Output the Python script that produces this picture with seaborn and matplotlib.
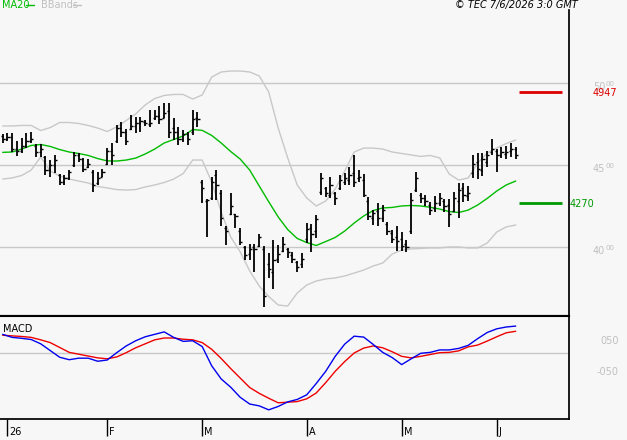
import numpy as np
import pandas as pd
import seaborn as sns
import matplotlib.pyplot as plt
from matplotlib.lines import Line2D

# sessions: last one of 2025, then Jan 2 .. Jun 5 2026 without exchange holidays
days = pd.bdate_range('2026-01-02', '2026-06-05')
days = days[~days.isin(pd.to_datetime(['2026-04-03', '2026-04-06', '2026-05-01']))]
dates = pd.DatetimeIndex([pd.Timestamp('2025-12-31')]).append(days)

opens = [4680, 4660, 4670, 4600, 4590, 4620, 4650, 4620, 4580, 4550,
         4470, 4500, 4440, 4400, 4420, 4500, 4560, 4540, 4490, 4460,
         4390, 4430, 4510, 4590, 4650, 4730, 4700, 4720, 4740, 4760,
         4765, 4750, 4790, 4800, 4790, 4830, 4730, 4700, 4660, 4690,
         4700, 4790, 4400, 4280, 4300, 4440, 4330, 4120, 4200, 4200,
         4100, 4000, 3960, 4000, 4010, 3990, 3900, 3850, 3930, 3980,
         3990, 3950, 3910, 3900, 4050, 4120, 4100, 4340, 4360, 4320,
         4330, 4360, 4400, 4410, 4450, 4420, 4410, 4280, 4180, 4220,
         4180, 4140, 4090, 4060, 4050, 4020, 4100, 4350, 4320, 4300,
         4260, 4240, 4270, 4280, 4260, 4220, 4280, 4360, 4310, 4450,
         4520, 4470, 4520, 4580, 4590, 4560, 4570, 4590, 4600]
highs = [4691, 4697, 4697, 4648, 4666, 4697, 4703, 4630, 4630, 4557,
         4532, 4563, 4447, 4441, 4471, 4581, 4575, 4545, 4538, 4471,
         4459, 4477, 4605, 4636, 4746, 4764, 4721, 4807, 4794, 4794,
         4776, 4837, 4837, 4862, 4880, 4880, 4788, 4734, 4715, 4703,
         4837, 4825, 4410, 4294, 4429, 4471, 4349, 4130, 4331, 4203,
         4118, 4008, 4020, 4020, 4081, 4008, 3965, 4044, 4014, 4063,
         3996, 3971, 3916, 3965, 4148, 4142, 4197, 4453, 4368, 4429,
         4337, 4441, 4453, 4490, 4563, 4471, 4447, 4307, 4227, 4270,
         4258, 4154, 4105, 4130, 4093, 4044, 4331, 4459, 4331, 4319,
         4276, 4313, 4331, 4294, 4294, 4337, 4392, 4392, 4374, 4563,
         4575, 4575, 4587, 4660, 4599, 4612, 4618, 4636, 4612]
lows = [4636, 4648, 4581, 4557, 4575, 4605, 4636, 4551, 4551, 4441,
        4429, 4453, 4380, 4380, 4410, 4490, 4520, 4459, 4483, 4337,
        4380, 4429, 4502, 4502, 4636, 4673, 4624, 4715, 4697, 4703,
        4740, 4734, 4776, 4752, 4788, 4666, 4654, 4624, 4642, 4624,
        4685, 4734, 4270, 4063, 4288, 4288, 4130, 4014, 4197, 4118,
        4014, 3922, 3922, 3849, 4002, 3636, 3813, 3746, 3904, 3971,
        3935, 3904, 3849, 3874, 4026, 3971, 4057, 4319, 4307, 4301,
        4258, 4349, 4380, 4380, 4368, 4398, 4307, 4166, 4136, 4130,
        4154, 4075, 4026, 3977, 3977, 3971, 4081, 4337, 4270, 4252,
        4197, 4215, 4252, 4215, 4124, 4215, 4179, 4276, 4282, 4423,
        4416, 4435, 4490, 4563, 4459, 4545, 4538, 4551, 4538]
closes = [4660, 4670, 4600, 4590, 4620, 4650, 4660, 4580, 4600, 4470,
          4500, 4530, 4400, 4420, 4460, 4560, 4540, 4480, 4510, 4380,
          4420, 4460, 4590, 4560, 4730, 4700, 4650, 4740, 4760, 4770,
          4760, 4760, 4800, 4780, 4820, 4700, 4700, 4660, 4690, 4660,
          4780, 4780, 4360, 4290, 4400, 4380, 4180, 4100, 4250, 4190,
          4030, 3950, 3990, 3990, 4060, 3700, 3870, 3920, 3960, 4020,
          3970, 3930, 3880, 3930, 4110, 4080, 4170, 4420, 4330, 4380,
          4300, 4410, 4420, 4440, 4400, 4430, 4320, 4190, 4210, 4180,
          4230, 4100, 4050, 4040, 4010, 4000, 4290, 4420, 4300, 4280,
          4230, 4270, 4300, 4250, 4200, 4300, 4350, 4320, 4330, 4510,
          4480, 4540, 4560, 4600, 4560, 4580, 4580, 4600, 4560]

# indicators, read every second session
ma20 = [4579, 4581, 4599, 4621, 4627, 4615, 4596, 4581, 4572, 4560,
        4541, 4527, 4526, 4532, 4544, 4569, 4599, 4636, 4657, 4679,
        4718, 4713, 4682, 4636, 4584, 4538, 4471, 4374, 4278, 4185,
        4108, 4054, 4029, 4011, 4035, 4060, 4099, 4148, 4191, 4224,
        4240, 4243, 4252, 4255, 4252, 4244, 4233, 4218, 4212, 4227,
        4258, 4298, 4343, 4380, 4404]
bb_upper = [4740, 4740, 4743, 4743, 4712, 4730, 4761, 4761, 4755, 4743,
            4727, 4706, 4734, 4773, 4813, 4868, 4907, 4926, 4932, 4932,
            4904, 4929, 5038, 5069, 5075, 5075, 5069, 5045, 4947, 4727,
            4545, 4380, 4301, 4252, 4282, 4355, 4465, 4581, 4605, 4605,
            4599, 4581, 4572, 4563, 4554, 4560, 4545, 4447, 4410, 4423,
            4514, 4575, 4605, 4633, 4654]
bb_lower = [4416, 4423, 4438, 4471, 4551, 4465, 4435, 4416, 4404, 4392,
            4371, 4362, 4352, 4349, 4352, 4368, 4380, 4395, 4416, 4450,
            4532, 4532, 4398, 4215, 4063, 3972, 3856, 3764, 3700, 3648,
            3642, 3721, 3770, 3794, 3807, 3813, 3825, 3843, 3861, 3886,
            3904, 3959, 3983, 3990, 3993, 3996, 3996, 4002, 4002, 3996,
            3996, 4026, 4093, 4124, 4136]
macd = [62, 52, 49, 45, 31, 9, -13, -21, -16, -16,
        -26, -22, 2, 24, 41, 54, 62, 70, 52, 39,
        41, 22, -41, -84, -111, -144, -166, -172, -185, -174,
        -159, -151, -136, -99, -59, -10, 30, 56, 53, 29,
        3, -14, -37, -18, 0, 3, 11, 11, 16, 26,
        48, 68, 80, 86, 89]
signal = [59, 57, 55, 52, 44, 35, 19, 3, -3, -9,
          -15, -18, -12, 2, 18, 31, 44, 50, 50, 46,
          44, 35, 13, -17, -50, -81, -112, -131, -147, -162,
          -160, -158, -149, -130, -96, -59, -27, 1, 17, 24,
          18, 5, -10, -15, -10, -4, 2, 3, 8, 21,
          27, 40, 54, 67, 72]

levels = [4947, 4270]
level_colors = ['#dd0000', '#009900']
price_ticks = [4000, 4500, 5000]
macd_ticks = [50, -50]
macd_labels = ['050', '-050']

W, H = 627, 440
BG = '#f7f7f7'

sns.set_theme(style='white', rc={'axes.facecolor': BG, 'figure.facecolor': BG})
plt.rcParams['font.family'] = ['DejaVu Sans']

fig = plt.figure(figsize=(W / 100, H / 100), dpi=100)
ax = fig.add_axes([0, 1 - 316 / H, 569 / W, 306 / H])
axm = fig.add_axes([0, 1 - 419 / H, 569 / W, 103 / H], sharex=ax)

idx = np.arange(len(dates))
idx2 = idx[::2]

# price panel
for v in price_ticks:
    ax.axhline(v, color='#c8c8c8', lw=1, zorder=0)
sns.lineplot(x=idx2, y=bb_upper, ax=ax, color='#c8c8c8', lw=1)
sns.lineplot(x=idx2, y=bb_lower, ax=ax, color='#c8c8c8', lw=1)
sns.lineplot(x=idx2, y=ma20, ax=ax, color='#00bb00', lw=1)
ax.vlines(idx, lows, highs, color='black', lw=1.3)
ax.hlines(opens, idx - 0.45, idx, color='black', lw=1)
ax.hlines(closes, idx, idx + 0.45, color='black', lw=1)
ax.hlines(levels, 108.7, 117.7, colors=level_colors, lw=2)

ax.set_xlim(-2.7 / 4.75, (569 - 2.7) / 4.75)
ax.set_ylim(3581, 5447)
ax.set_yticks([])
ax.tick_params(axis='x', length=0, labelbottom=False)
for s in ['left', 'top']:
    ax.spines[s].set_visible(False)
ax.spines['right'].set_color('black')
ax.spines['bottom'].set_color('black')
ax.spines['bottom'].set_linewidth(1.5)

# right-hand price labels, last two digits small and raised
for v in price_ticks:
    s = str(v)
    ax.annotate(s[:2], xy=(593 / W, v), xycoords=('figure fraction', 'data'),
                xytext=(0, -4), textcoords='offset pixels', va='center',
                fontsize=7, color='#c0c0c0', annotation_clip=False)
    ax.annotate(s[2:], xy=(606 / W, v), xycoords=('figure fraction', 'data'),
                xytext=(0, -1), textcoords='offset pixels', va='center',
                fontsize=5, color='#c0c0c0', annotation_clip=False)
for v, c, x in zip(levels, level_colors, [593, 570]):
    ax.annotate(str(v), xy=(x / W, v), xycoords=('figure fraction', 'data'),
                xytext=(0, -1), textcoords='offset pixels', va='center',
                fontsize=7, color=c, annotation_clip=False)

# MACD panel
axm.axhline(0, color='#c8c8c8', lw=1, zorder=0)
sns.lineplot(x=idx2, y=signal, ax=axm, color='#ee0000', lw=1)
sns.lineplot(x=idx2, y=macd, ax=axm, color='#0000ee', lw=1)
axm.set_ylim(-215, 122)
axm.set_yticks([])
axm.spines['left'].set_visible(False)
for s in ['top', 'right', 'bottom']:
    axm.spines[s].set_color('black')
axm.spines['top'].set_linewidth(1.5)
axm.text(0.005, 0.87, 'MACD', transform=axm.transAxes, fontsize=7,
         color='black', va='center')
for v, lbl in zip(macd_ticks, macd_labels):
    axm.annotate(lbl, xy=(619 / W, v), xycoords=('figure fraction', 'data'),
                 xytext=(0, -3), textcoords='offset pixels', va='center', ha='right',
                 fontsize=7, color='#c0c0c0', annotation_clip=False)

# month ticks
month_first = [i for i in range(1, len(dates)) if dates[i].month != dates[i - 1].month]
month_labels = [dates[i].strftime('%y') if dates[i].month == 1 else dates[i].strftime('%b')[0]
                for i in month_first]
axm.set_xticks(month_first)
axm.tick_params(axis='x', direction='out', length=12.5, width=1, color='black',
                labelbottom=False, bottom=True)
for i, lbl in zip(month_first, month_labels):
    axm.annotate(lbl, xy=(i, 0), xycoords=('data', 'axes fraction'),
                 xytext=(2, -18), textcoords='offset pixels', va='bottom',
                 fontsize=7, color='black', annotation_clip=False)

# header
fig.text(2 / W, 1 - 5 / H, 'MA20', color='#00bb00', fontsize=7, va='center')
fig.add_artist(Line2D([26 / W, 34 / W], [1 - 5 / H] * 2, color='#00bb00', lw=1))
fig.text(41 / W, 1 - 5 / H, 'BBands', color='#c0c0c0', fontsize=7, va='center')
fig.add_artist(Line2D([73 / W, 81 / W], [1 - 5 / H] * 2, color='#c0c0c0', lw=1))
fig.text(455 / W, 1 - 5 / H, '© TEC 7/6/2026 3:0 GMT', color='black',
         fontsize=7, va='center', style='italic')

fig.savefig('out.png', dpi=100, facecolor=BG)
